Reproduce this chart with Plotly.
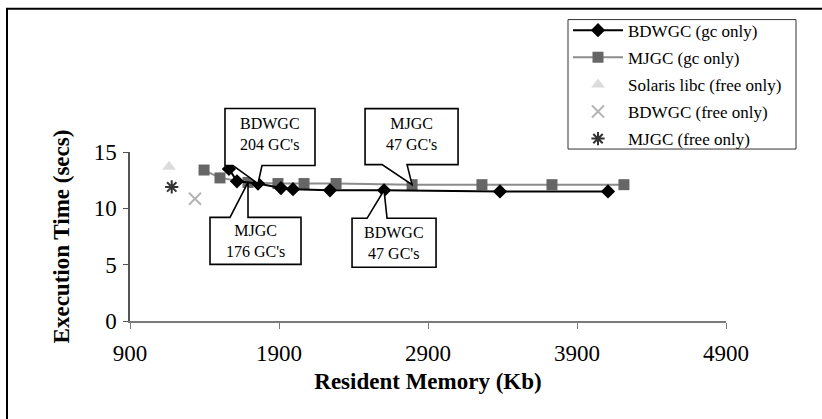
import plotly.graph_objects as go

# ---------------- data ----------------
bdw_gc_x = [1564, 1618, 1759, 1913, 1994, 2242, 2605, 3383, 4108]
bdw_gc_y = [13.5, 12.4, 12.2, 11.8, 11.7, 11.6, 11.6, 11.5, 11.5]
mj_gc_x = [1397, 1504, 1692, 1893, 2068, 2283, 2793, 3262, 3732, 4215]
mj_gc_y = [13.4, 12.7, 12.3, 12.2, 12.2, 12.2, 12.1, 12.1, 12.1, 12.1]
solaris_free_x = [1162]
solaris_free_y = [13.7]
bdw_free_x = [1336]
bdw_free_y = [10.85]
mj_free_x = [1180]
mj_free_y = [11.9]

x_ticks = [900, 1900, 2900, 3900, 4900]
y_ticks = [0, 5, 10, 15]
X_RANGE = [900, 4900]
Y_RANGE = [0, 15]

FONT = "Liberation Serif"
W, H = 822, 419
ML, MR, MT, MB = 130, 96, 150, 98
PW, PH = W - ML - MR, H - MT - MB


def px_to_paper_x(px):
    return (px - ML) / PW


def px_to_paper_y(py):
    return (H - MB - py) / PH


def data_to_paper_x(v):
    return (v - X_RANGE[0]) / (X_RANGE[1] - X_RANGE[0])


def data_to_paper_y(v):
    return (v - Y_RANGE[0]) / (Y_RANGE[1] - Y_RANGE[0])


fig = go.Figure()

fig.add_trace(go.Scatter(
    x=mj_gc_x, y=mj_gc_y, name="MJGC (gc only)", mode="lines+markers",
    line=dict(color="#8c8c8c", width=2),
    marker=dict(symbol="square", size=11, color="#666666"),
    legendrank=2, legendgroup="b",
))
fig.add_trace(go.Scatter(
    x=bdw_gc_x, y=bdw_gc_y, name="BDWGC (gc only)", mode="lines+markers",
    line=dict(color="#000000", width=2),
    marker=dict(symbol="diamond", size=11, color="#000000"),
    legendrank=1, legendgroup="a",
))
fig.add_trace(go.Scatter(
    x=solaris_free_x, y=solaris_free_y, name="Solaris libc (free only)", mode="markers",
    marker=dict(symbol="triangle-up", size=12, color="#dcdcdc"),
    legendrank=3, legendgroup="c",
))
fig.add_trace(go.Scatter(
    x=bdw_free_x, y=bdw_free_y, name="BDWGC (free only)", mode="markers",
    marker=dict(symbol="x-thin-open", size=12, color="#b4b4b4",
                line=dict(color="#b4b4b4", width=2)),
    legendrank=4, legendgroup="d",
))
fig.add_trace(go.Scatter(
    x=mj_free_x, y=mj_free_y, name="MJGC (free only)", mode="markers",
    marker=dict(symbol="asterisk-open", size=11, color="#333333",
                line=dict(color="#333333", width=2)),
    legendrank=5, legendgroup="e",
))

# ---------------- callouts ----------------
# (text, x series, y series, index, box [left,right,top,bottom] px offsets (y up), wedge base [l, r], wedge edge)
callouts = [
    ("BDWGC<br>204 GC's", bdw_gc_x, bdw_gc_y, 2, (-33, 57, 75, 18), (-25, 4), "bottom"),
    ("MJGC<br>176 GC's", mj_gc_x, mj_gc_y, 2, (-38, 53, -35, -82), (-18, 0), "top"),
    ("MJGC<br>47 GC's", mj_gc_x, mj_gc_y, 6, (-47, 46, 76, 20), (-30, -5), "bottom"),
    ("BDWGC<br>47 GC's", bdw_gc_x, bdw_gc_y, 6, (-32, 52, -28, -77), (-17, 3), "top"),
]

shapes = []
annotations = []
for text, xs, ys, i, box, wedge, side in callouts:
    l, r, t, b = box
    wl, wr = wedge
    if side == "bottom":
        pts = [(l, t), (r, t), (r, b), (wr, b), (0, 0), (wl, b), (l, b)]
    else:
        pts = [(l, t), (wl, t), (0, 0), (wr, t), (r, t), (r, b), (l, b)]
    path = "M " + " L ".join(f"{px},{py}" for px, py in pts) + " Z"
    shapes.append(dict(
        type="path", path=path, xref="paper", yref="paper",
        xsizemode="pixel", ysizemode="pixel",
        xanchor=data_to_paper_x(xs[i]), yanchor=data_to_paper_y(ys[i]),
        fillcolor="white", line=dict(color="black", width=1.6), layer="above",
    ))
    annotations.append(dict(
        x=xs[i], y=ys[i], xref="x", yref="y", text=text, showarrow=False,
        xshift=(l + r) / 2, yshift=(t + b) / 2 + (3 if side == "bottom" else 0),
        font=dict(family=FONT, size=16, color="black"),
        align="center",
    ))

# legend frame
shapes.append(dict(
    type="rect", xref="paper", yref="paper",
    x0=px_to_paper_x(568), x1=px_to_paper_x(796),
    y0=px_to_paper_y(147), y1=px_to_paper_y(16),
    line=dict(color="#333333", width=1), fillcolor="white", layer="above",
))

# outer chart border (extends past right / bottom edge)
shapes.append(dict(
    type="rect", xref="paper", yref="paper",
    x0=px_to_paper_x(7), x1=px_to_paper_x(840),
    y0=px_to_paper_y(440), y1=px_to_paper_y(5),
    line=dict(color="black", width=2), fillcolor="rgba(0,0,0,0)", layer="below",
))

fig.update_layout(
    width=W, height=H,
    margin=dict(l=ML, r=MR, t=MT, b=MB, pad=0),
    paper_bgcolor="white", plot_bgcolor="white",
    font=dict(family=FONT, color="black"),
    shapes=shapes, annotations=annotations,
    showlegend=True,
    legend=dict(
        x=px_to_paper_x(568), y=px_to_paper_y(9), xanchor="left", yanchor="top",
        borderwidth=0, bgcolor="rgba(0,0,0,0)",
        font=dict(family=FONT, size=17, color="black"),
        traceorder="grouped", tracegroupgap=2, itemwidth=50,
    ),
    xaxis=dict(
        range=X_RANGE, tickvals=x_ticks, ticktext=[str(v) for v in x_ticks],
        showgrid=False, zeroline=False, showline=True, linecolor="#7a7a7a", linewidth=2,
        ticks="outside", ticklen=6, tickcolor="#7a7a7a", tickwidth=1,
        ticklabelstandoff=4,
        tickfont=dict(family=FONT, size=23, color="black"),
        title=dict(text="<b>Resident Memory (Kb)</b>", font=dict(family=FONT, size=23, color="black"), standoff=8),
    ),
    yaxis=dict(
        range=Y_RANGE, tickvals=y_ticks, ticktext=[str(v) for v in y_ticks],
        showgrid=False, zeroline=False, showline=True, linecolor="#555555", linewidth=1.5,
        ticks="outside", ticklen=5, tickcolor="#555555", tickwidth=1,
        ticklabelstandoff=2,
        tickfont=dict(family=FONT, size=23, color="black"),
        title=dict(text="<b>Execution Time (secs)</b>", font=dict(family=FONT, size=23, color="black"), standoff=18),
    ),
)

fig.write_html("out.html")
